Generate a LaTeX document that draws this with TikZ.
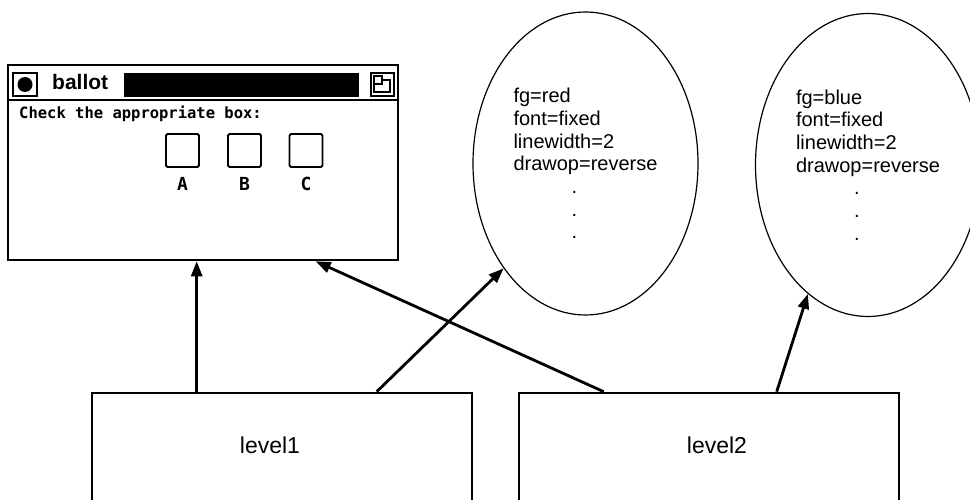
\documentclass[tikz,border=0pt]{standalone}
\usepackage{fontspec}
\setmainfont{Liberation Sans}
\setmonofont{DejaVu Sans Mono}
\usetikzlibrary{shapes.geometric, arrows.meta}
\newcommand{\attrdot}{\hspace*{58pt}.}
\begin{document}
\begin{tikzpicture}[x=1pt, y=-1pt]
   \tikzstyle{lvl}=[draw, line width=2.6pt, minimum width=380pt, minimum height=112pt, inner sep=0pt]
   \tikzstyle{ell}=[draw, ellipse, line width=1.2pt, minimum width=225pt, minimum height=303pt, align=left, inner sep=0pt, font={\fontsize{20}{22.7}\selectfont}]
   \tikzstyle{chk}=[draw, line width=1.8pt, rounded corners=1.5pt, minimum size=33pt, inner sep=0pt]
   \tikzstyle{pix}=[inner sep=0pt, font={\ttfamily\bfseries\fontsize{15.5}{15.5}\selectfont}]
   \tikzstyle{arr}=[line width=2.8pt, -{Triangle[length=15pt, width=11pt]}]
   \useasboundingbox (0,0) rectangle (970,500);
   %% window
\node[draw, line width=2.6pt, minimum width=390pt, minimum height=195pt, inner sep=0pt] (win) at (203,162.5) {};
\draw[line width=1.6pt] (win.west |- 0,100) -- (win.east |- 0,100);
\draw[line width=2pt] (13,73) rectangle (37,96);
\fill (25,84.5) circle (7.5);
\node[anchor=base west, inner sep=0pt, font={\fontsize{21}{21}\selectfont\bfseries}] (ttl) at (52,90) {ballot};
\fill (124,73) rectangle (359,97);
\draw[line width=1.6pt] (371,73) rectangle (394,96);
\draw[line width=1.6pt] (374,76) rectangle (382,84);
\draw[line width=1.6pt] (382,80) -- (390,80) -- (390,92) -- (374,92) -- (374,84);
\node[pix, anchor=base west] (msg) at (19,119) {Check the appropriate box:};
\foreach \n/\x in {A/182.5, B/244.5, C/306}{
   \node[chk] (box\n) at (\x,150.5) {};
   \node[pix, anchor=base, font={\ttfamily\bfseries\fontsize{18}{18}\selectfont}] (lab\n) at (\x,191) {\n};
}
   %% attribute lists
\node[ell] (ell1) at (585.5,163.5) {fg=red\\font=fixed\\linewidth=2\\drawop=reverse\\\attrdot\\\attrdot\\\attrdot};
\node[ell] (ell2) at (868,165) {fg=blue\\font=fixed\\linewidth=2\\drawop=reverse\\\attrdot\\\attrdot\\\attrdot};
   %% levels
\node[lvl] (lvl1) at (282,449) {};
\node[lvl] (lvl2) at (709,449) {};
\node[font={\fontsize{23}{23}\selectfont}] (t1) at (270,445) {level1};
\node[font={\fontsize{23}{23}\selectfont}] (t2) at (717,445) {level2};
   %% arrows
\draw[arr] ([xshift=106pt]lvl1.north west) -- ([xshift=190pt]win.south west);
\draw[arr] ([xshift=286pt]lvl1.north west) -- (ell1.232);
\draw[arr] ([xshift=86pt]lvl2.north west) -- ([xshift=309pt]win.south west);
\draw[arr] ([xshift=259pt]lvl2.north west) -- (ell2.245);
\end{tikzpicture}
\end{document}
